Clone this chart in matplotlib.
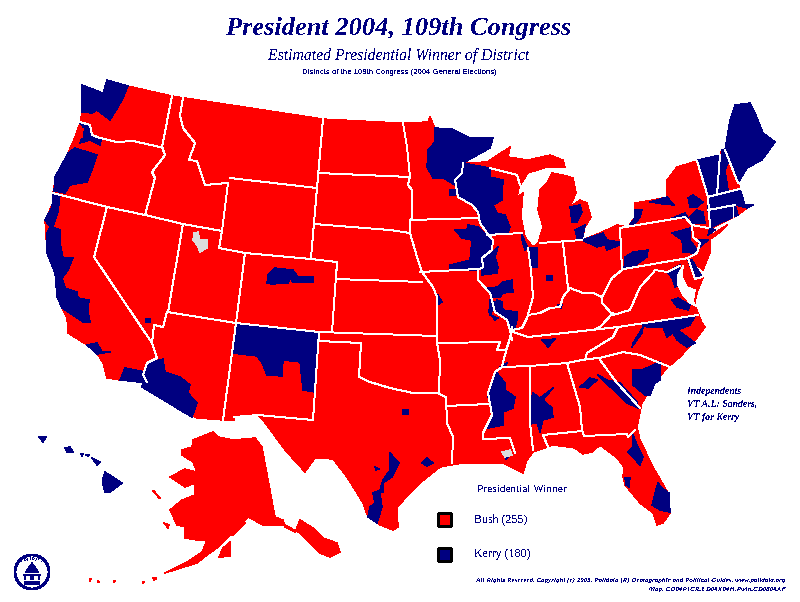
import matplotlib
matplotlib.use('Agg')
import matplotlib.pyplot as plt
from matplotlib.patches import Polygon, Circle, Rectangle

RED = '#ff0000'
NAVY = '#000080'
GRAY = '#dcdcdc'

# all map outlines, in picture pixels
mainland = [(82,85),(103,93),(107,80),(128,86),(172,96),(323,119),(400,123),(428,122),(430,117),(435,128),(452,129),
    (470,138),(493,138),(490,148),(472,158),(463,163),(487,162),(510,147),(508,157),(528,160),(550,155),(563,160),(565,167),
    (547,167),(528,173),(519,187),(517,197),(523,193),(521,217),(525,237),(533,247),(538,243),(543,227),(538,210),(540,190),
    (547,183),(552,173),(563,175),(573,178),(576,193),(570,207),(580,200),(587,203),(591,217),(585,227),(582,240),(600,233),
    (617,225),(628,227),(635,217),(635,203),(653,200),(667,197),(667,180),(677,167),(697,161),(720,155),(722,150),(725,150),
    (730,120),(735,105),(750,103),(755,113),(763,133),(775,142),(762,160),(747,168),(738,183),(740,189),(745,205),(753,205),
    (747,208),(738,215),(712,228),(710,235),(710,253),(703,270),(693,262),(703,278),(698,290),(695,302),(697,310),(702,323),
    (705,327),(693,343),(680,357),(667,368),(665,370),(650,390),(642,403),(637,427),(640,440),(653,467),(668,493),(670,513),
    (663,523),(657,525),(653,513),(640,503),(625,485),(623,477),(624,467),(617,458),(600,445),(592,452),(583,454),(575,448),
    (553,445),(533,452),(527,460),(523,473),(517,470),(503,463),(463,463),(440,467),(420,483),(397,507),(398,527),(393,530),
    (380,525),(368,517),(363,503),(360,498),(347,477),(333,459),(315,458),(305,472),(285,450),(263,420),(258,415),(234,417),
    (234,420),(223,420),(197,418),(142,387),(147,380),(120,380),(107,378),(103,363),(97,353),(87,345),(68,333),(67,318),
    (57,297),(55,273),(47,253),(45,220),(53,203),(53,193),(55,180),(68,153),(75,137),(80,123),(82,112)]
alaska = [(182,450),(192,447),(193,440),(213,432),(218,437),(233,440),(255,438),(262,447),(275,517),(283,520),(285,527),
    (295,532),(300,520),(313,528),(323,538),(337,543),(340,552),(330,557),(320,553),(300,533),(285,525),(263,525),(248,517),
    (230,535),(217,548),(207,555),(197,563),(165,573),(187,562),(202,552),(207,540),(197,540),(185,538),(185,527),(177,525),
    (170,510),(182,500),(195,495),(195,483),(185,487),(170,477),(185,469),(197,472),(193,462),(182,455)]
red_bits = [
    [(219,557),(223,548),(230,542),(230,556),(222,557)],
    [(230,535),(232,527),(243,518),(245,523),(233,535)],
    [(153,491),(154,491),(160,498),(159,498)],
    [(164,523),(169,525),(168,528)],
    [(90,579),(91,579),(90,581)],[(98,581),(99,582),(98,582)],[(114,581),(115,581),(114,582)],
    [(143,582),(144,582),(143,583)],[(153,578),(154,578),(154,580)],[(156,577),(156,577),(156,580)],
]
long_island = [(710,236),(727,225),(720,232),(712,238)]
portland_hole = [(78,131),(83,129),(82,137),(76,140)]
lake_bay = [(683,266),(682,277),(687,287),(695,290),(693,302),(696,306),(690,303),(683,295),(678,285),(678,275)]

navy_areas = [
    [(82,85),(103,93),(107,80),(128,86),(123,98),(118,107),(110,120),(97,110),(92,113),(82,112)],
    [(80,123),(90,125),(92,137),(101,140),(100,145),(90,140),(80,143),(84,128)],
    [(68,153),(75,148),(97,155),(92,170),(87,182),(70,185),(65,193),(54,191),(55,177),(60,168)],
    [(53,195),(60,195),(58,212),(53,227),(60,230),(60,243),(63,258),(73,258),(68,270),(62,278),(65,287),(57,297),(55,273),
     (47,253),(47,233),(50,227),(45,220),(52,207)],
    [(57,297),(62,287),(77,292),(78,298),(89,300),(88,312),(90,322),(83,322),(62,308)],
    [(87,345),(97,343),(102,352),(110,352),(97,354)],
    [(120,380),(125,368),(145,372),(143,378),(147,383)],
    [(142,387),(147,363),(163,359),(165,372),(180,377),(190,385),(188,393),(197,403),(192,417),(185,413)],
    [(236,324),(319,332),(315,392),(303,390),(300,362),(283,360),(282,376),(267,375),(262,363),(257,356),(232,353)],
    [(267,283),(268,275),(275,268),(293,270),(298,277),(313,277),(313,282),(293,282),(290,278),(288,283),(272,284)],
    [(146,319),(150,319),(150,322),(146,322)],
    [(435,128),(452,129),(470,138),(493,138),(490,148),(472,158),(463,163),(462,173),(455,180),(455,185),(443,178),(433,178),
     (427,167),(428,150),(435,142)],
    [(463,163),(490,168),(490,177),(503,180),(502,200),(493,205),(497,213),(505,215),(510,227),(508,233),(487,235),(478,213),
     (472,205),(458,197),(455,180)],
    [(450,190),(455,190),(455,195),(450,195)],
    [(455,230),(467,230),(468,225),(478,227),(487,235),(493,240),(492,250),(482,257),(483,267),(478,270),(450,270),(450,265),
     (470,260),(472,240),(462,238)],
    [(482,270),(483,258),(493,252),(498,247),(495,257),(498,267),(497,273),(482,275)],
    [(487,288),(498,287),(503,282),(512,280),(513,292),(503,293),(500,297),(492,297)],
    [(497,300),(495,310),(507,318),(512,330),(515,328),(517,320),(517,312),(503,310),(502,302)],
    [(490,300),(497,303),(490,315),(498,318),(495,320),(489,312)],
    [(438,295),(442,302),(437,305)],
    [(522,235),(528,248),(525,250),(522,240)],
    [(529,248),(537,248),(537,267),(532,267)],
    [(547,276),(552,276),(552,280),(547,280)],
    [(558,305),(562,305),(561,308)],
    [(570,207),(580,205),(582,212),(577,222),(572,222)],
    [(575,230),(585,225),(582,240),(577,238)],
    [(582,240),(603,233),(607,240),(620,242),(620,245),(607,250),(605,245),(597,247)],
    [(624,269),(625,257),(633,252),(648,250),(647,257),(633,267)],
    [(672,233),(690,228),(690,240),(697,250),(693,253),(683,252),(682,240)],
    [(698,240),(708,240),(700,247)],
    [(667,272),(680,265),(677,277),(683,283),(675,287),(672,278)],
    [(688,260),(692,260),(702,277),(695,279)],
    [(628,227),(635,218),(635,210),(642,210),(640,217),(635,224)],
    [(650,202),(667,197),(674,205),(663,204)],
    [(688,198),(693,195),(703,202),(697,207),(690,207)],
    [(690,217),(697,210),(703,212),(705,223),(692,223)],
    [(672,218),(685,213),(688,218)],
    [(698,160),(720,155),(717,196),(708,197)],
    [(722,150),(725,150),(728,163),(725,170),(728,190),(717,195)],
    [(725,150),(730,120),(735,105),(750,103),(755,113),(763,133),(775,142),(762,160),(747,168),(738,183)],
    [(708,197),(740,189),(745,205),(753,205),(747,208),(735,205),(708,210)],
    [(708,211),(733,206),(733,217),(712,227)],
    [(735,205),(738,215),(733,217)],
    [(708,235),(715,230),(710,227)],
    [(672,300),(678,298),(690,305),(688,310),(677,307)],
    [(643,325),(695,316),(690,325),(678,330),(687,337),(695,343),(687,347),(677,340),(673,333),(667,337),(663,327),(647,327)],
    [(643,327),(633,343),(632,347),(642,333)],
    [(542,340),(555,339),(548,347)],
    [(500,367),(507,363),(505,367)],
    [(497,373),(505,383),(505,390),(515,397),(513,408),(503,412),(503,425),(488,428),(493,413),(488,397),(492,383)],
    [(530,402),(533,393),(540,398),(553,388),(543,400),(552,408),(553,417),(543,420),(540,432),(537,423),(530,424)],
    [(580,387),(590,378),(597,380),(588,388)],
    [(598,375),(607,380),(620,383),(637,402),(638,408),(627,403),(617,393),(608,385)],
    [(633,370),(642,370),(660,362),(660,380),(655,383),(650,395),(645,395),(633,385)],
    [(633,435),(637,445),(643,457),(640,465),(628,452),(633,447)],
    [(625,478),(630,478),(629,487),(626,485)],
    [(658,483),(662,488),(669,493),(670,512),(660,510),(652,505),(655,493)],
    [(390,453),(399,463),(392,477),(383,483),(383,492),(380,493),(382,507),(377,523),(368,517),(370,507),(375,503),(373,493),
     (380,490),(383,480),(390,470)],
    [(422,463),(427,458),(433,463),(427,466)],
    [(403,410),(408,410),(408,414),(403,414)],
    [(375,467),(379,469),(376,470)],
    [(505,456),(509,456),(506,459)],
]
hawaii = [
    [(103,478),(105,472),(113,477),(122,483),(110,492),(105,492),(103,485)],
    [(92,458),(100,462),(97,465)],
    [(65,448),(70,447),(73,452),(67,452)],
    [(39,437),(46,437),(43,442)],
    [(81,454),(83,454),(82,456)],[(86,455),(89,455),(88,456)],
]
gray_areas = [
    [(194,233),(198,232),(200,240),(207,240),(207,248),(200,252),(197,245),(193,240)],
    [(502,452),(510,450),(512,455),(505,457)],
]

state_lines = [
    [(80,122),(90,125),(92,135),(100,138),(117,142),(133,141),(160,147),(163,148)],
    [(172,96),(162,147)],
    [(162,147),(165,155),(152,172),(155,178),(145,215)],
    [(53,193),(107,207),(145,215),(183,224),(222,231)],
    [(183,98),(180,115),(183,128),(195,143),(189,160),(197,161),(205,185),(227,183)],
    [(228,183),(222,231)],
    [(230,178),(317,188)],
    [(317,188),(311,258)],
    [(323,119),(317,188)],
    [(222,231),(219,248),(245,253),(311,259),(337,262)],
    [(183,224),(168,312)],
    [(107,207),(94,257),(152,343)],
    [(167,312),(163,327),(154,325),(152,343),(157,358),(147,363),(143,375),(147,382)],
    [(167,312),(236,323),(319,332),(437,336)],
    [(245,253),(236,323),(223,420)],
    [(337,262),(332,332)],
    [(319,332),(313,420)],
    [(234,417),(258,415),(313,420)],
    [(318,173),(410,177)],
    [(314,224),(390,230),(410,233)],
    [(337,262),(336,279),(422,282)],
    [(319,341),(361,343),(359,377),(370,382),(390,388),(413,393),(437,393),(446,397),(447,423),(453,437),(452,463)],
    [(437,343),(440,360),(439,393)],
    [(446,406),(488,404)],
    [(437,343),(500,342),(497,350),(506,350),(510,338)],
    [(410,233),(417,257),(422,272),(433,287),(437,297),(437,343)],
    [(403,123),(407,147),(410,177),(408,185),(412,190),(412,218),(410,220),(410,233)],
    [(420,272),(478,269)],
    [(410,220),(478,218)],
    [(463,163),(462,173),(455,180),(458,197),(472,205),(478,212),(480,223),(487,233),(493,240),(492,250),(482,258),(483,267),
     (478,270),(478,280),(490,293),(492,300),(495,312),(507,320),(510,330),(512,340)],
    [(487,235),(522,233)],
    [(490,168),(517,175),(520,185)],
    [(528,248),(531,270),(533,297),(527,318)],
    [(512,330),(522,328),(527,318),(528,315),(540,313),(550,308),(560,307),(563,297),(570,288),(583,293),(593,293),(602,297),
     (602,303),(613,315),(630,310),(640,287),(653,273),(655,270),(667,272),(680,266)],
    [(563,243),(568,288)],
    [(540,243),(582,240)],
    [(602,297),(612,278),(622,270),(620,228)],
    [(620,228),(685,217),(692,225),(708,228)],
    [(624,269),(688,258)],
    [(692,225),(693,237),(700,243),(697,253),(688,258),(695,279),(702,277)],
    [(512,327),(510,338),(505,355),(502,367),(495,372),(488,393),(492,415),(483,433),(483,439),(510,438),(515,453)],
    [(513,332),(528,337),(618,327),(698,315)],
    [(618,327),(613,337),(587,353),(585,360)],
    [(613,313),(600,327),(593,330)],
    [(502,367),(530,366),(567,363),(587,359),(600,358),(623,352),(640,355),(670,367)],
    [(530,366),(530,423),(533,450)],
    [(567,363),(580,407),(582,430),(584,436),(627,434),(628,437),(635,430)],
    [(543,435),(582,431)],
    [(543,435),(548,447)],
    [(600,360),(617,383),(640,408)],
    [(697,161),(708,197),(710,227)],
    [(720,155),(717,195)],
    [(725,150),(738,183)],
    [(708,197),(740,189)],
    [(708,210),(735,205)],
    [(733,206),(733,217)],
]

title = 'President 2004, 109th Congress'
subtitle = 'Estimated Presidential Winner of District'
small_title = 'Districts of the 109th Congress (2004 General Elections)'
legend_title = 'Presidential Winner'
legend_labels = ['Bush (255)', 'Kerry (180)']
note_lines = ['Independents', 'VT A.L: Sanders,', 'VT for Kerry']
footer_lines = ['All Rights Reserved. Copyright (c) 2005, Polidata (R) Demographic and Political Guides. www.polidata.org',
                'Map. CD04P1CR.ED04X04H.Pwin.CD0804AF']

plt.rcParams['font.family'] = ['Liberation Serif', 'DejaVu Serif']
plt.rcParams['text.antialiased'] = False

fig = plt.figure(figsize=(8, 6.02), dpi=100)
ax = fig.add_axes([0, 0, 1, 1])
ax.set_xlim(0, 800)
ax.set_ylim(602, 0)
ax.axis('off')

def fill(pts, color, z=1):
    ax.add_patch(Polygon(pts, closed=True, facecolor=color, edgecolor=color, linewidth=0.3, antialiased=False, zorder=z))

fill(mainland, RED)
fill(alaska, RED)
fill(long_island, RED)
for p in red_bits:
    fill(p, RED)
for p in navy_areas:
    fill(p, NAVY, 2)
for p in hawaii:
    fill(p, NAVY, 2)
for p in gray_areas:
    fill(p, GRAY, 3)
fill(portland_hole, RED, 3)
fill(lake_bay, 'white', 3)

for line in state_lines:
    xs = [p[0] for p in line]
    ys = [p[1] for p in line]
    ax.plot(xs, ys, color='white', linewidth=0.7, antialiased=False, zorder=4)

# headings
ax.text(399, 29, title, color=NAVY, fontsize=19, fontweight='bold', style='italic', ha='center', va='center')
ax.text(399, 56, subtitle, color=NAVY, fontsize=11.3, style='italic', ha='center', va='center')
ax.text(399, 72, small_title, color=NAVY, fontsize=5.6, family='Liberation Sans', ha='center', va='center')

# legend
ax.text(477, 490, legend_title, color=NAVY, fontsize=8.2, va='center')
for y0, color, label in zip([513, 548], [RED, NAVY], legend_labels):
    ax.add_patch(Rectangle((438, y0), 13, 13, facecolor=color, edgecolor='black', linewidth=0.8, antialiased=False, zorder=5))
    ax.text(474, y0 + 6, label, color=NAVY, fontsize=8.6, va='center')

# side note
for y, line in zip([391, 404, 417], note_lines):
    ax.text(687, y, line, color=NAVY, fontsize=7, style='italic', fontweight='bold', va='center')

# footer
for y, line in zip([580, 590], footer_lines):
    ax.text(786, y, line, color=NAVY, fontsize=5.05, style='italic', fontweight='bold', ha='right', va='center')

# polidata seal
ax.add_patch(Circle((32, 572), 17, facecolor='white', edgecolor=NAVY, linewidth=1.3, antialiased=False, zorder=5))
fill([(27, 570), (32, 563), (37, 570)], NAVY, 6)
for x0, y0, w, h in [(25, 571, 14, 2), (23, 574, 18, 1.5), (24, 576, 2, 4), (38, 576, 2, 4), (30, 576, 4, 4), (24, 581, 16, 4)]:
    ax.add_patch(Rectangle((x0, y0), w, h, facecolor=NAVY, edgecolor='none', antialiased=False, zorder=6))
for i, ch in enumerate('POLIDATA'):
    ax.text(22 + i * 2.9, 561 - 2.5 * (1 - abs(i - 3.5) / 3.5), ch, color=NAVY, fontsize=2.8, ha='center', va='center', zorder=6)

fig.savefig('out.png', dpi=100)
